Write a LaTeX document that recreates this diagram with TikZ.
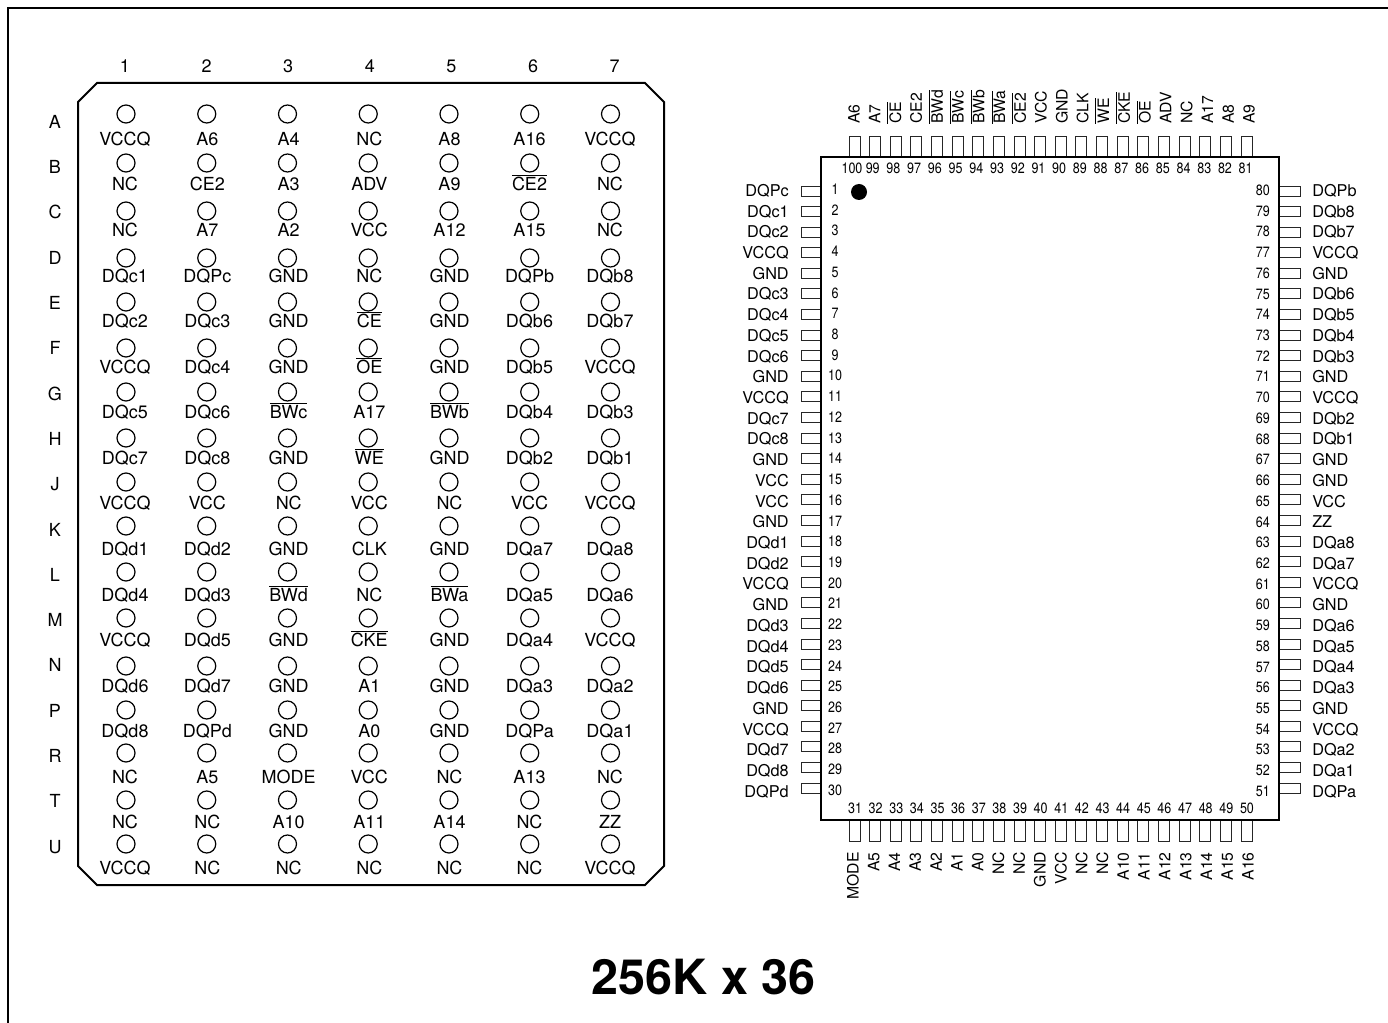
\documentclass[tikz,border=0pt]{standalone}
\usepackage{fontspec}
\setmainfont{TeX Gyre Heros}
\newfontfamily\numfont[FakeStretch=0.84]{TeX Gyre Heros}
\newcommand{\ovl}[1]{$\overline{\mbox{#1}}$}
\tikzset{
	balllbl/.style={inner sep=0pt, anchor=base, font=\fontsize{13.5pt}{13.5pt}\selectfont},
	gridlbl/.style={inner sep=0pt, anchor=base, font=\fontsize{13.5pt}{13.5pt}\selectfont},
	pinlbl/.style={inner sep=0pt, font=\fontsize{12.2pt}{12.2pt}\selectfont},
	toplbl/.style={inner sep=0pt, rotate=90, font=\fontsize{11.8pt}{11.8pt}\selectfont},
	pinnum/.style={inner sep=0pt, anchor=base, font=\numfont\fontsize{11.2pt}{11.2pt}\selectfont},
	pinbox/.style={draw=black!85, line width=0.7pt, fill=white}
}
\begin{document}
\begin{tikzpicture}[x=0.75pt, y=-0.75pt]
	\useasboundingbox (0,0) rectangle (1388,1023);
	% Frame
	\draw[line width=2.2pt] (8,1023) -- (8,8) -- (1388,8);
	% BGA package outline
	\draw[line width=1.5pt] (97,83) -- (645,83) -- (664,102) -- (664,866) -- (645,885) -- (97,885) -- (78,866) -- (78,102) -- cycle;
	% Column numbers
	\foreach \c in {1,...,7}
		\node[gridlbl] (col\c) at ({125+81.6*(\c-1)},73) {\c};
	% Balls, row letters and ball names
	\foreach \r/\bally/\names [count=\i] in {
		A/114/{VCCQ,A6,A4,NC,A8,A16,VCCQ},
		B/163/{NC,CE2,A3,ADV,A9,\ovl{CE2},NC},
		C/211/{NC,A7,A2,VCC,A12,A15,NC},
		D/258/{DQc1,DQPc,GND,NC,GND,DQPb,DQb8},
		E/302/{DQc2,DQc3,GND,\ovl{CE},GND,DQb6,DQb7},
		F/348/{VCCQ,DQc4,GND,\ovl{OE},GND,DQb5,VCCQ},
		G/392/{DQc5,DQc6,\ovl{BWc},A17,\ovl{BWb},DQb4,DQb3},
		H/438/{DQc7,DQc8,GND,\ovl{WE},GND,DQb2,DQb1},
		J/482/{VCCQ,VCC,NC,VCC,NC,VCC,VCCQ},
		K/526/{DQd1,DQd2,GND,CLK,GND,DQa7,DQa8},
		L/572/{DQd4,DQd3,\ovl{BWd},NC,\ovl{BWa},DQa5,DQa6},
		M/618/{VCCQ,DQd5,GND,\ovl{CKE},GND,DQa4,VCCQ},
		N/666/{DQd6,DQd7,GND,A1,GND,DQa3,DQa2},
		P/710/{DQd8,DQPd,GND,A0,GND,DQPa,DQa1},
		R/753/{NC,A5,MODE,VCC,NC,A13,NC},
		T/800/{NC,NC,A10,A11,A14,NC,ZZ},
		U/844/{VCCQ,NC,NC,NC,NC,NC,VCCQ}} {
		\node[gridlbl] (row\r) at (55,{128.3+45.3*(\i-1)}) {\r};
		\foreach \name [count=\c] in \names {
			\pgfmathsetmacro{\lblx}{{125,207.3,288.7,369.3,449.5,529.5,610}[\c-1]}
			\draw[line width=0.9pt] ({126+80.75*(\c-1)},\bally) circle (9);
			\node[balllbl] (ball\r\c) at (\lblx,{145.3+45.57*(\i-1)}) {\name};
		}
	}
	% QFP pins, left side
	\foreach \name [count=\n] in {DQPc,DQc1,DQc2,VCCQ,GND,DQc3,DQc4,DQc5,DQc6,GND,VCCQ,DQc7,DQc8,GND,VCC,VCC,GND,DQd1,DQd2,VCCQ,GND,DQd3,DQd4,DQd5,DQd6,GND,VCCQ,DQd7,DQd8,DQPd} {
		\draw[pinbox] (801,{186+20.59*(\n-1)}) rectangle (821,{196+20.59*(\n-1)});
		\node[pinlbl, anchor=base east] (pinname\n) at (789,{196.3+20.72*(\n-1)}) {\name};
		\node[pinnum] (pin\n) at (835,{194.5+20.72*(\n-1)}) {\n};
	}
	% QFP pins, right side
	\foreach \name [count=\k] in {DQPb,DQb8,DQb7,VCCQ,GND,DQb6,DQb5,DQb4,DQb3,GND,VCCQ,DQb2,DQb1,GND,GND,VCC,ZZ,DQa8,DQa7,VCCQ,GND,DQa6,DQa5,DQa4,DQa3,GND,VCCQ,DQa2,DQa1,DQPa} {
		\pgfmathtruncatemacro{\n}{81-\k}
		\draw[pinbox] (1279,{186+20.59*(\k-1)}) rectangle (1300,{196+20.59*(\k-1)});
		\node[pinlbl, anchor=base west] (pinname\n) at (1312,{196.3+20.72*(\k-1)}) {\name};
		\node[pinnum, anchor=base east] (pin\n) at (1270,{195.5+20.72*(\k-1)}) {\n};
	}
	% QFP pins, top side
	\foreach \name [count=\k] in {A6,A7,\ovl{CE},CE2,\ovl{BWd},\ovl{BWc},\ovl{BWb},\ovl{BWa},\ovl{CE2},VCC,GND,CLK,\ovl{WE},\ovl{CKE},\ovl{OE},ADV,NC,A17,A8,A9} {
		\pgfmathtruncatemacro{\n}{101-\k}
		\draw[pinbox] ({849+20.63*(\k-1)},136) rectangle ({860+20.63*(\k-1)},157);
		\node[toplbl, anchor=base west] (pinname\n) at ({859.6+20.79*(\k-1)},124) {\name};
		\node[pinnum] (pin\n) at ({852+20.72*(\k-1)},173.5) {\n};
	}
	% QFP pins, bottom side
	\foreach \name [count=\k] in {MODE,A5,A4,A3,A2,A1,A0,NC,NC,GND,VCC,NC,NC,A10,A11,A12,A13,A14,A15,A16} {
		\pgfmathtruncatemacro{\n}{30+\k}
		\draw[pinbox] ({849+20.63*(\k-1)},820) rectangle ({860+20.63*(\k-1)},841);
		\node[toplbl, anchor=base east] (pinname\n) at ({858.6+20.79*(\k-1)},852) {\name};
		\node[pinnum] (pin\n) at ({855+20.63*(\k-1)},813.5) {\n};
	}
	% QFP body and pin 1 mark
	\draw[line width=1.6pt] (821,157) rectangle (1279,820);
	\fill (859,192) circle (8);
	% Title
	\node[inner sep=0pt, anchor=base, font=\bfseries\fontsize{36.4pt}{36.4pt}\selectfont] (title) at (703.5,994) {256K x 36};
\end{tikzpicture}
\end{document}
